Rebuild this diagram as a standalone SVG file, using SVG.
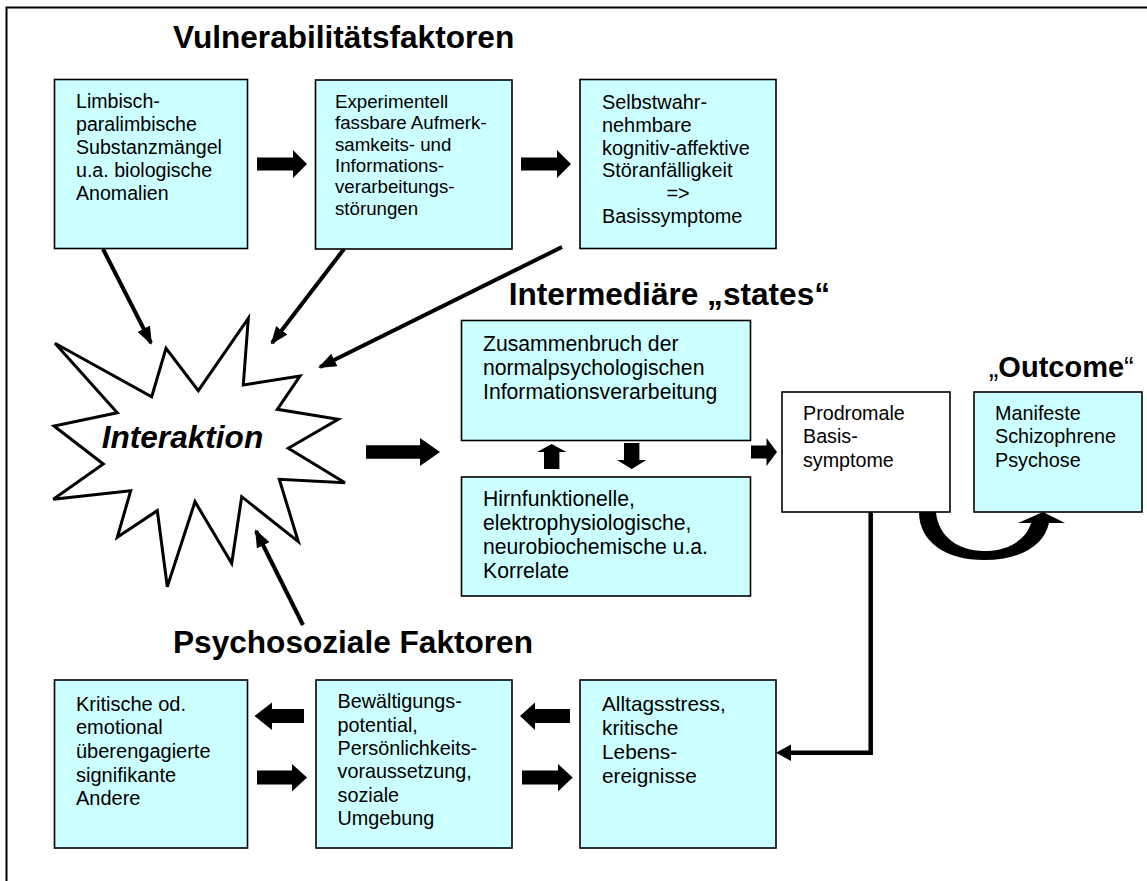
<svg xmlns="http://www.w3.org/2000/svg" width="1147" height="881" viewBox="0 0 1147 881">
<style>
text{font-family:"Liberation Sans",Arial,sans-serif;fill:#000}
.box{fill:#CCFFFF;stroke:#000;stroke-width:1.6}
.wbox{fill:#FFFFFF;stroke:#000;stroke-width:1.6}
.title{font-weight:bold;font-size:31.6px}
.blk{fill:#000;stroke:none}
.ln{stroke:#000;stroke-width:4;fill:none}
</style>
<defs>
<marker id="ah" markerUnits="userSpaceOnUse" markerWidth="18" markerHeight="14" refX="16" refY="7" orient="auto" viewBox="0 0 18 14">
<path d="M0,0 L18,7 L0,14 Z" fill="#000"/>
</marker>
</defs>
<rect width="1147" height="881" fill="#fff"/>
<path d="M6.5,881 V7.5 H1147" fill="none" stroke="#000" stroke-width="2"/>

<g id="titles">
<text class="title" x="173" y="48">Vulnerabilitätsfaktoren</text>
<text class="title" x="508.7" y="305">Intermediäre „states“</text>
<text x="988.7" y="376.7" style="font-size:29px">„<tspan font-weight="bold">Outcome</tspan>“</text>
<text class="title" x="173" y="652.7">Psychosoziale Faktoren</text>
</g>

<g id="connectors">
<line class="ln" x1="103" y1="249" x2="151" y2="343" marker-end="url(#ah)"/>
<line class="ln" x1="344" y1="249" x2="272" y2="343" marker-end="url(#ah)"/>
<line class="ln" x1="562" y1="247" x2="320" y2="367" marker-end="url(#ah)"/>
<line class="ln" x1="303" y1="625" x2="256" y2="531" marker-end="url(#ah)"/>
<path d="M870.7,512 V752.7 H790" fill="none" stroke="#000" stroke-width="4.5"/>
<path class="blk" d="M791,744.5 L776,752.7 L791,761 Z"/>
<!-- block arrows top row -->
<path class="blk" d="M257,157.5 H293 V150 L307,164 L293,178 V170.5 H257 Z"/>
<path class="blk" d="M521,157.5 H557 V150 L571,164 L557,178 V170.5 H521 Z"/>
<!-- Interaktion to states -->
<path class="blk" d="M366,445.3 H420 V438 L440,452 L420,466 V458.7 H366 Z"/>
<!-- up / down -->
<path class="blk" d="M544,469 V452 H537 L551.7,444 L566.4,452 H559.4 V469 Z"/>
<path class="blk" d="M624,443 V460 H617 L631.7,469 L646.4,460 H639.4 V443 Z"/>
<!-- to Prodromale -->
<path class="blk" d="M751,445.5 H766.5 V438 L777,452 L766.5,466 V458.5 H751 Z"/>
<!-- curved arrow to Outcome -->
<path class="blk" d="M919,512 C919,542 946,560 984,560 C1020,560 1044,546 1049,523 L1065,523 L1043,512 L1018,523 L1031,523 C1026,540 1008,551 984,551 C958,551 938,536 936,512 Z"/>
<!-- bottom row block arrows -->
<path class="blk" d="M304,709 H272 V702.5 L254.5,716 L272,730 V723 H304 Z"/>
<path class="blk" d="M257,770.5 H292 V764 L307,777.5 L292,791.5 V784.5 H257 Z"/>
<path class="blk" d="M570,709 H535 V702.5 L520,716 L535,730 V723 H570 Z"/>
<path class="blk" d="M522,770.5 H558 V764 L572.7,777.5 L558,791.5 V784.5 H522 Z"/>
</g>

<g id="n_limbisch">
<rect class="box" x="54.5" y="79.5" width="193" height="169"/>
<text style="font-size:19.6px"><tspan x="76" y="108">Limbisch-</tspan><tspan x="76" dy="23">paralimbische</tspan><tspan x="76" dy="23">Substanzmängel</tspan><tspan x="76" dy="23">u.a. biologische</tspan><tspan x="76" dy="23">Anomalien</tspan></text>
</g>
<g id="n_experimentell">
<rect class="box" x="315.5" y="80" width="196.5" height="169"/>
<text style="font-size:18.7px"><tspan x="335" y="108">Experimentell</tspan><tspan x="335" dy="21.3">fassbare Aufmerk-</tspan><tspan x="335" dy="21.3">samkeits- und</tspan><tspan x="335" dy="21.3">Informations-</tspan><tspan x="335" dy="21.3">verarbeitungs-</tspan><tspan x="335" dy="21.3">störungen</tspan></text>
</g>
<g id="n_selbst">
<rect class="box" x="580" y="79.5" width="196" height="169"/>
<text style="font-size:19.9px"><tspan x="602" y="109">Selbstwahr-</tspan><tspan x="602" dy="22.8">nehmbare</tspan><tspan x="602" dy="22.8">kognitiv-affektive</tspan><tspan x="602" dy="22.8">Störanfälligkeit</tspan><tspan x="678" dy="22.8" text-anchor="middle">=&gt;</tspan><tspan x="602" dy="22.8">Basissymptome</tspan></text>
</g>
<g id="n_interaktion">
<polygon points="55,343.3 151.7,396.7 166,348.3 198.3,390.7 248.3,318.3 243.3,385 300,376 277.3,409.3 338.3,419.3 288.3,448.3 345,482.7 279.3,479.3 298.3,541.7 241.7,496.7 231.7,563.3 195,501.7 167.3,586.7 157.3,510.7 117.3,537.3 130.7,490.7 53.3,499.3 103.3,464 54,426 117.3,412.7" fill="#fff" stroke="#000" stroke-width="3" stroke-linejoin="miter"/>
<text x="101.7" y="448" style="font-size:31.6px;font-weight:bold;font-style:italic">Interaktion</text>
</g>
<g id="n_zusammenbruch">
<rect class="box" x="461.5" y="320.5" width="289" height="120"/>
<text style="font-size:21.2px"><tspan x="483" y="350.5">Zusammenbruch der</tspan><tspan x="483" dy="24">normalpsychologischen</tspan><tspan x="483" dy="24">Informationsverarbeitung</tspan></text>
</g>
<g id="n_hirnfunktionell">
<rect class="box" x="461.5" y="477" width="289" height="119"/>
<text style="font-size:21.2px"><tspan x="483" y="506">Hirnfunktionelle,</tspan><tspan x="483" dy="24">elektrophysiologische,</tspan><tspan x="483" dy="24">neurobiochemische u.a.</tspan><tspan x="483" dy="24">Korrelate</tspan></text>
</g>
<g id="n_prodromale">
<rect class="wbox" x="782" y="392" width="168" height="120"/>
<text style="font-size:19.7px"><tspan x="803" y="420">Prodromale</tspan><tspan x="803" dy="23.3">Basis-</tspan><tspan x="803" dy="23.3">symptome</tspan></text>
</g>
<g id="n_manifeste">
<rect class="box" x="974" y="392" width="168" height="120"/>
<text style="font-size:19.8px"><tspan x="995" y="420">Manifeste</tspan><tspan x="995" dy="23.3">Schizophrene</tspan><tspan x="995" dy="23.3">Psychose</tspan></text>
</g>
<g id="n_kritische">
<rect class="box" x="54.5" y="680" width="193" height="168"/>
<text style="font-size:20px"><tspan x="76" y="710.7">Kritische od.</tspan><tspan x="76" dy="23.6">emotional</tspan><tspan x="76" dy="23.6">überengagierte</tspan><tspan x="76" dy="23.6">signifikante</tspan><tspan x="76" dy="23.6">Andere</tspan></text>
</g>
<g id="n_bewaeltigung">
<rect class="box" x="316" y="680" width="196" height="168"/>
<text style="font-size:19.8px"><tspan x="337.5" y="708.3">Bewältigungs-</tspan><tspan x="337.5" dy="23.3">potential,</tspan><tspan x="337.5" dy="23.3">Persönlichkeits-</tspan><tspan x="337.5" dy="23.3">voraussetzung,</tspan><tspan x="337.5" dy="23.3">soziale</tspan><tspan x="337.5" dy="23.3">Umgebung</tspan></text>
</g>
<g id="n_alltagsstress">
<rect class="box" x="580" y="680" width="196" height="168"/>
<text style="font-size:20.8px"><tspan x="602" y="710.7">Alltagsstress,</tspan><tspan x="602" dy="24">kritische</tspan><tspan x="602" dy="24">Lebens-</tspan><tspan x="602" dy="24">ereignisse</tspan></text>
</g>
</svg>
